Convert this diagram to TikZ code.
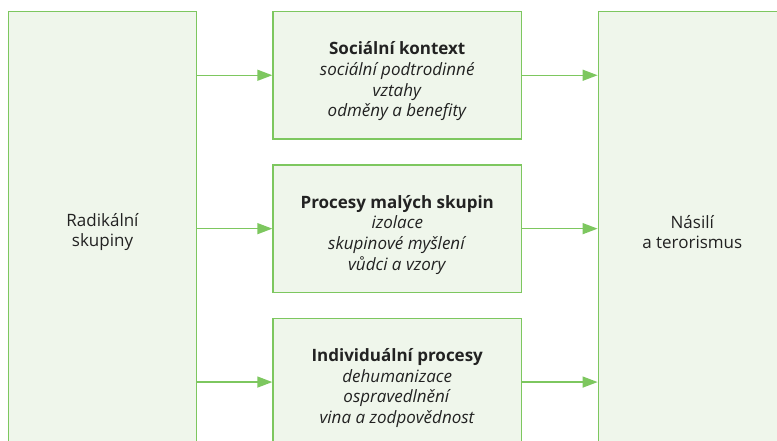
\documentclass[tikz,border=0pt]{standalone}
\usepackage{fontspec}
\setmainfont{Open Sans}
\usetikzlibrary{positioning}
\usetikzlibrary{arrows.meta}
\definecolor{boxgreen}{HTML}{7DC75F}
\definecolor{boxfill}{HTML}{EFF6EB}
\definecolor{txtgray}{HTML}{222222}
\newcommand{\boxtitle}[1]{\rule{0pt}{25pt}\textbf{#1}}

\begin{document}
\begin{tikzpicture}[x=1pt, y=-1pt,
    box/.style={draw=boxgreen, fill=boxfill, line width=1.4pt, text=txtgray,
        align=center, inner sep=0pt, font=\fontsize{17}{20.6}\selectfont},
    midbox/.style={box, minimum width=248.5pt, minimum height=127.5pt},
    sidebox/.style={box, minimum width=188pt, minimum height=441pt},
    arr/.style={-{Triangle[length=15pt, width=11pt]}, boxgreen, line width=1.4pt}]
    \useasboundingbox (0,0) rectangle (777,440);
    \clip (0,0) rectangle (777,440);
    \node[midbox] (kontext) at (397.25,75.25) {
        \boxtitle{Sociální kontext}\\
        \textit{sociální podtrodinné}\\
        \textit{vztahy}\\
        \textit{odměny a benefity}};
    \node[midbox, below=24.5pt of kontext] (malych) {
        \boxtitle{Procesy malých skupin}\\
        \textit{izolace}\\
        \textit{skupinové myšlení}\\
        \textit{vůdci a vzory}};
    \node[midbox, below=24.5pt of malych] (indiv) {
        \boxtitle{Individuální procesy}\\
        \textit{dehumanizace}\\
        \textit{ospravedlnění}\\
        \textit{vina a zodpovědnost}};
    \node[sidebox] (radikalni) at (102.5,232) {Radikální\\skupiny};
    \node[sidebox] (nasili) at (692.3,232) {Násilí\\a terorismus};
    % vstupy a vystupy
    \draw[arr] (radikalni.east |- kontext.west) -- (kontext.west);
    \draw[arr] (radikalni.east |- malych.west) -- (malych.west);
    \draw[arr] (radikalni.east |- indiv.west) -- (indiv.west);
    \draw[arr] (kontext.east) -- (nasili.west |- kontext.east);
    \draw[arr] (malych.east) -- (nasili.west |- malych.east);
    \draw[arr] (indiv.east) -- (nasili.west |- indiv.east);
\end{tikzpicture}
\end{document}
